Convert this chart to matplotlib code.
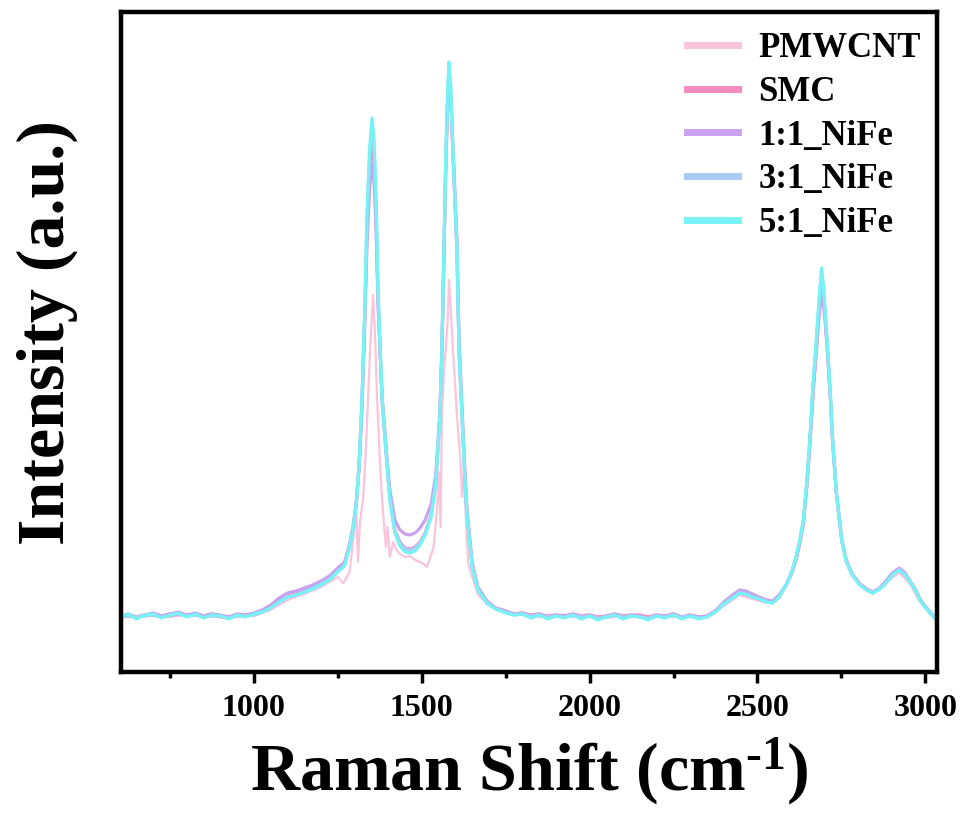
import matplotlib.pyplot as plt
from matplotlib.ticker import MultipleLocator

plt.rcParams['font.family'] = ['Liberation Serif', 'DejaVu Serif']
plt.rcParams['font.weight'] = 'bold'
plt.rcParams['mathtext.fontset'] = 'custom'
plt.rcParams['mathtext.rm'] = 'Liberation Serif:bold'
plt.rcParams['mathtext.bf'] = 'Liberation Serif:bold'
plt.rcParams['mathtext.default'] = 'bf'

# Raman shift grid shared by the SMC / NiFe samples (cm-1)
shift = [
    604, 625, 650, 675, 700, 725, 750, 775, 800, 825, 850, 875, 900, 925, 950, 975, 1000,
    1025, 1050, 1075, 1100, 1125, 1150, 1175, 1200, 1225, 1250,
    1270, 1285, 1295, 1305, 1313, 1322, 1331, 1337, 1345, 1352,
    1358, 1364, 1370, 1382, 1397, 1405, 1420, 1435, 1450, 1465,
    1480, 1495,
    1510, 1528, 1542, 1554, 1560, 1566, 1572, 1577, 1581, 1586,
    1593, 1605, 1611, 1620, 1629, 1635, 1650, 1667, 1694,
    1720, 1750, 1775, 1800, 1825, 1850, 1875, 1900, 1925, 1950,
    1975, 2000, 2025, 2050, 2075, 2100, 2125, 2150, 2175, 2200,
    2225, 2250, 2275, 2300, 2325, 2350, 2375, 2400,
    2430, 2447, 2465, 2485, 2505, 2528, 2545, 2565, 2587, 2602,
    2615, 2626, 2637, 2647, 2656,
    2666, 2676, 2685, 2691, 2697, 2703, 2709, 2717, 2724, 2735,
    2751, 2765, 2783,
    2805, 2825, 2843, 2860, 2875, 2890, 2905, 2923, 2940, 2955,
    2970, 2983, 2995, 3010, 3025, 3035,
]

smc = [
    56, 56, 55, 57, 57, 56, 58, 58, 57, 57, 56, 58, 55, 55, 56, 57, 57,
    61, 65, 71, 76, 78, 82, 85, 89, 94, 102,
    108, 126, 143, 168, 204, 268, 365, 445, 505, 530,
    508, 455, 372, 270, 206, 174, 141, 130, 124, 123,
    125, 130,
    139, 157, 190, 255, 320, 418, 515, 568, 592, 575,
    518, 420, 322, 256, 190, 157, 107, 84, 70,
    64, 61, 58, 59, 57, 58, 56, 57, 56, 58,
    56, 57, 55, 56, 58, 56, 57, 57, 55, 57,
    56, 58, 55, 57, 55, 56, 61, 69,
    77, 81, 80, 77, 74, 71, 70, 76, 88, 99,
    113, 130, 150, 187, 228,
    285, 328, 370, 390, 375, 350, 320, 278, 231, 180,
    132, 110, 97,
    88, 83, 80, 82, 87, 93, 99, 103, 98, 90,
    82, 73, 67, 61, 55, 52,
]

nife_1_1 = [
    56, 58, 55, 57, 59, 56, 58, 60, 57, 59, 56, 58, 57, 55, 58, 57, 59,
    62, 67, 74, 79, 81, 84, 87, 91, 96, 104,
    110, 128, 145, 170, 203, 265, 355, 430, 485, 508,
    490, 440, 365, 275, 212, 182, 152, 142, 138, 137,
    139, 144,
    152, 168, 198, 258, 322, 415, 510, 568, 598, 580,
    525, 432, 335, 265, 198, 162, 110, 85, 71,
    64, 61, 58, 59, 56, 58, 55, 57, 56, 58,
    55, 57, 54, 56, 58, 55, 57, 56, 54, 57,
    56, 58, 55, 57, 55, 56, 61, 70,
    78, 82, 81, 78, 75, 72, 71, 77, 88, 99,
    112, 128, 148, 185, 225,
    280, 322, 362, 378, 368, 345, 318, 276, 230, 180,
    133, 111, 98,
    88, 83, 80, 83, 88, 94, 100, 104, 99, 91,
    83, 74, 68, 62, 56, 53,
]

nife_3_1 = [
    55, 56, 55, 56, 57, 55, 56, 58, 56, 57, 55, 56, 56, 54, 56, 56, 57,
    60, 64, 70, 75, 77, 80, 84, 88, 93, 101,
    107, 126, 143, 170, 206, 272, 370, 455, 518, 545,
    524, 466, 376, 272, 206, 173, 140, 129, 123, 122,
    124, 129,
    138, 156, 190, 256, 322, 420, 518, 575, 605, 584,
    520, 421, 323, 256, 190, 156, 106, 83, 69,
    63, 60, 57, 58, 56, 57, 55, 56, 55, 57,
    55, 56, 54, 55, 57, 55, 56, 55, 54, 56,
    55, 57, 55, 56, 54, 55, 60, 68,
    75, 79, 78, 75, 73, 70, 69, 75, 88, 100,
    115, 131, 151, 189, 231,
    288, 332, 376, 398, 381, 353, 323, 279, 232, 180,
    132, 110, 97,
    87, 82, 79, 82, 86, 92, 98, 102, 97, 90,
    82, 73, 67, 61, 55, 52,
]

nife_5_1 = [
    55, 58, 53, 57, 58, 54, 57, 59, 55, 58, 54, 57, 56, 53, 57, 55, 58,
    60, 64, 70, 75, 77, 80, 83, 87, 92, 100,
    106, 125, 142, 168, 205, 272, 372, 460, 525, 554,
    530, 472, 380, 272, 205, 172, 139, 126, 120, 119,
    121, 127,
    137, 155, 189, 255, 322, 422, 522, 580, 610, 588,
    522, 422, 322, 255, 189, 155, 105, 82, 69,
    63, 59, 57, 58, 54, 57, 53, 56, 54, 57,
    53, 56, 52, 55, 57, 53, 56, 55, 52, 56,
    54, 57, 53, 56, 53, 55, 60, 68,
    75, 79, 78, 75, 73, 70, 69, 75, 88, 100,
    115, 132, 152, 190, 232,
    290, 335, 380, 404, 385, 355, 325, 280, 232, 180,
    132, 110, 97,
    87, 82, 79, 82, 86, 92, 98, 102, 97, 90,
    82, 73, 67, 61, 55, 52,
]

# PMWCNT was recorded on its own grid
shift_pmwcnt = [
    604, 650, 700, 750, 800, 850, 900, 950, 1000, 1050,
    1100, 1150, 1200, 1250, 1266, 1277, 1285, 1295, 1305, 1310,
    1316, 1325, 1331, 1340, 1347, 1355, 1361, 1367, 1376, 1382,
    1387, 1393, 1398, 1405, 1415, 1425, 1435, 1450, 1465, 1480,
    1495, 1505, 1516, 1525, 1535, 1545, 1551, 1556, 1560, 1566,
    1572, 1577, 1581, 1587, 1593, 1599, 1605, 1611, 1617, 1620,
    1625, 1632, 1638, 1645, 1655, 1667, 1694, 1750, 1800, 1850,
    1900, 1950, 2000, 2050, 2100, 2150, 2200, 2250, 2300, 2350,
    2400, 2447, 2485, 2528, 2565, 2602, 2626, 2647, 2666, 2681,
    2693, 2705, 2717, 2730, 2751, 2783, 2843, 2905, 2923, 2955,
    2983, 3010, 3035,
]
pmwcnt = [
    55, 56, 57, 55, 57, 56, 55, 57, 56, 62,
    72, 78, 85, 95, 89, 95, 100, 130, 160, 110,
    150, 172, 205, 272, 330, 377, 335, 272, 205, 172,
    150, 125, 145, 115, 130, 122, 118, 115, 116, 112,
    110, 108, 105, 114, 125, 160, 200, 145, 255, 300,
    325, 350, 392, 360, 322, 290, 255, 230, 200, 175,
    200, 150, 110, 100, 90, 78, 68, 59, 57, 55,
    56, 55, 57, 54, 56, 55, 57, 55, 56, 55,
    66, 77, 73, 69, 74, 98, 128, 180, 270, 345,
    378, 340, 270, 200, 130, 96, 78, 95, 99, 88,
    71, 60, 52,
]

labels = ['PMWCNT', 'SMC', '1:1_NiFe', '3:1_NiFe', '5:1_NiFe']
colors = ['#f9c4dc', '#f58cbf', '#c9a2f0', '#a9cbf5', '#78f2f4']

fig = plt.figure(figsize=(9.62, 8.15), dpi=100)
ax = fig.add_axes([121 / 962, 1 - 672 / 815, 816 / 962, 660 / 815])

ax.plot(shift_pmwcnt, pmwcnt, color=colors[0], lw=1.6, label=labels[0])
for y, lab, c in zip([smc, nife_1_1, nife_3_1, nife_5_1], labels[1:], colors[1:]):
    ax.plot(shift, y, color=c, lw=2.3, label=lab)

ax.set_xlim(604, 3035)
ax.set_ylim(0, 660)
ax.set_yticks([])
ax.xaxis.set_major_locator(MultipleLocator(500))
ax.xaxis.set_minor_locator(MultipleLocator(250))
ax.tick_params(axis='x', which='major', direction='out', length=8, width=2.5,
               labelsize=23, pad=8)
ax.tick_params(axis='x', which='minor', direction='out', length=4, width=2.5)
for lbl in ax.get_xticklabels():
    lbl.set_fontweight('bold')
for s in ax.spines.values():
    s.set_linewidth(3.2)

ax.set_xlabel('Raman Shift (cm$^{\u20101}$)', fontsize=49, fontweight='bold')
ax.xaxis.set_label_coords(0.5, -0.095)
ax.set_ylabel('Intensity (a.u.)', fontsize=49, fontweight='bold')
ax.yaxis.set_label_coords(-0.053, 0.515)

leg = ax.legend(loc='upper left', bbox_to_anchor=(687 / 962, 1 - 32 / 815),
                bbox_transform=fig.transFigure, frameon=False,
                prop={'size': 25, 'weight': 'bold'}, handlelength=1.47,
                handletextpad=0.58, labelspacing=0.31, borderpad=0, borderaxespad=0)
for h in leg.get_lines():
    h.set_linewidth(5)

fig.savefig('out.png', dpi=100)
